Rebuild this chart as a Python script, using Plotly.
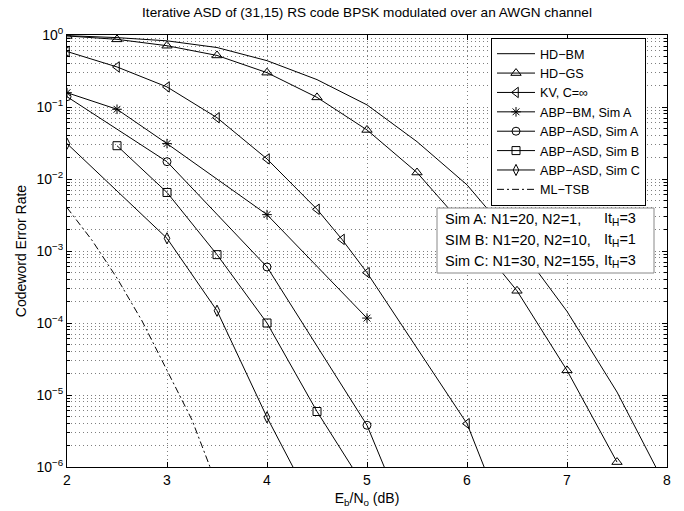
import plotly.graph_objects as go

# ---------------- data ----------------
hd_bm_x = [2, 2.5, 3, 3.5, 4, 4.5, 5, 5.5, 6, 6.5, 7, 7.5, 8]
hd_bm_y = [0.98, 0.92, 0.83, 0.67, 0.44, 0.24, 0.107, 0.033, 8.3e-3, 1.26e-3, 1.45e-4, 1.1e-5, 5e-7]

hd_gs_x = [2, 2.5, 3, 3.5, 4, 4.5, 5, 5.5, 6, 6.5, 7, 7.5]
hd_gs_y = [0.97, 0.87, 0.71, 0.52, 0.30, 0.136, 0.048, 0.0123, 2.0e-3, 2.8e-4, 2.2e-5, 1.17e-6]

kv_x = [2, 2.5, 3, 3.5, 4, 4.5, 4.75, 5, 6, 6.5]
kv_y = [0.59, 0.36, 0.19, 0.071, 0.019, 3.8e-3, 1.45e-3, 5.0e-4, 4.0e-6, 7e-8]

abp_bm_a_x = [2, 2.5, 3, 4, 5]
abp_bm_a_y = [0.158, 0.093, 0.031, 3.2e-3, 1.17e-4]

abp_asd_a_x = [2, 3, 4, 5, 5.5]
abp_asd_a_y = [0.139, 0.0174, 6.0e-4, 3.8e-6, 8e-8]

abp_asd_b_x = [2.5, 3, 3.5, 4, 4.5, 5]
abp_asd_b_y = [0.029, 6.5e-3, 8.9e-4, 1.0e-4, 5.9e-6, 4.7e-7]

abp_asd_c_x = [2, 3, 3.5, 4, 4.5]
abp_asd_c_y = [0.031, 1.5e-3, 1.48e-4, 4.9e-6, 2.3e-7]

ml_tsb_x = [2, 2.25, 2.5, 2.75, 3, 3.25, 3.5]
ml_tsb_y = [4.0e-3, 1.41e-3, 4.2e-4, 1.07e-4, 2.2e-5, 4.5e-6, 5.6e-7]

x_ticks = [2, 3, 4, 5, 6, 7, 8]
y_tick_vals = [1e-6, 1e-5, 1e-4, 1e-3, 1e-2, 1e-1, 1e0]
y_tick_text = ["10<sup>\u22126</sup>", "10<sup>\u22125</sup>", "10<sup>\u22124</sup>",
               "10<sup>\u22123</sup>", "10<sup>\u22122</sup>", "10<sup>\u22121</sup>",
               "10<sup>0</sup>"]

names = ["HD\u2212BM", "HD\u2212GS", "KV, C=\u221e", "ABP\u2212BM, Sim A",
         "ABP\u2212ASD, Sim A", "ABP\u2212ASD, Sim B", "ABP\u2212ASD, Sim C", "ML\u2212TSB"]

sim_left = ["Sim A: N1=20, N2=1,", "SIM B: N1=20, N2=10,", "Sim C: N1=30, N2=155,"]
sim_right = ["It<sub>H</sub>=3", "It<sub>H</sub>=1", "It<sub>H</sub>=3"]

title_text = "Iterative ASD of (31,15) RS code BPSK modulated over an AWGN channel"
x_title = "E<sub>b</sub>/N<sub>o</sub> (dB)"
y_title = "Codeword Error Rate"

# ---------------- figure ----------------
FONT = "Liberation Sans, Arial, Helvetica, sans-serif"
series = [
    (hd_bm_x, hd_bm_y, None, "solid"),
    (hd_gs_x, hd_gs_y, "triangle-up-open", "solid"),
    (kv_x, kv_y, "triangle-left-open", "solid"),
    (abp_bm_a_x, abp_bm_a_y, "asterisk-open", "solid"),
    (abp_asd_a_x, abp_asd_a_y, "circle-open", "solid"),
    (abp_asd_b_x, abp_asd_b_y, "square-open", "solid"),
    (abp_asd_c_x, abp_asd_c_y, "diamond-tall-open", "solid"),
    (ml_tsb_x, ml_tsb_y, None, "7px,3px,2px,3px"),
]

fig = go.Figure()
for (xs, ys, sym, dash), nm in zip(series, names):
    if sym is None:
        mode = "lines"
        marker = None
    else:
        mode = "lines+markers"
        marker = dict(symbol=sym, size=9 if "triangle" in sym else 8, color="black",
                      line=dict(width=1, color="black"))
    fig.add_trace(go.Scatter(x=xs, y=ys, name=nm, mode=mode, marker=marker,
                             line=dict(color="black", width=1, dash=dash)))

minor_vals = [k * 10 ** e for e in range(-6, 0) for k in range(2, 10)]
grid_col = "rgba(0,0,0,0.5)"
grid_dash = "1px,3px"

fig.update_xaxes(range=[2, 8], tickvals=x_ticks, showline=True, linecolor="black",
                 linewidth=1, mirror="allticks", ticks="inside", ticklen=5,
                 tickcolor="black", showgrid=True, gridcolor=grid_col, griddash=grid_dash,
                 gridwidth=1, zeroline=False, automargin=False,
                 tickfont=dict(family=FONT, size=14, color="black"),
                 title=dict(text=x_title, font=dict(family=FONT, size=14, color="black"),
                            standoff=6))
fig.update_yaxes(type="log", range=[-6, 0], tickvals=y_tick_vals, ticktext=y_tick_text,
                 showline=True, linecolor="black", linewidth=1, mirror="allticks",
                 ticks="inside", ticklen=5, tickcolor="black", showgrid=True,
                 gridcolor=grid_col, griddash=grid_dash, gridwidth=1, zeroline=False,
                 automargin=False,
                 minor=dict(tickvals=minor_vals, ticks="inside", ticklen=3,
                            tickcolor="black", showgrid=True, gridcolor=grid_col,
                            griddash=grid_dash, gridwidth=1),
                 tickfont=dict(family=FONT, size=14, color="black"),
                 title=dict(text=y_title, font=dict(family=FONT, size=14, color="black"),
                            standoff=6))

W, H = 684, 511
L, R, T, B = 67, 17, 35, 44
pw, ph = W - L - R, H - T - B


def px(xpix):
    return (xpix - L) / pw


def py(ypix):
    return (H - B - ypix) / ph


fig.update_layout(
    width=W, height=H, margin=dict(l=L, r=R, t=T, b=B, autoexpand=False),
    paper_bgcolor="white", plot_bgcolor="white",
    font=dict(family=FONT, color="black"),
    title=dict(text=title_text, x=0.5, xref="paper", xanchor="center",
               y=1 - 12 / H, yanchor="middle", yref="container", automargin=False,
               font=dict(family=FONT, size=13.6, color="black")),
    legend=dict(x=px(491), y=py(38), xanchor="left", yanchor="top",
                bgcolor="white", bordercolor="black", borderwidth=1,
                font=dict(family=FONT, size=12.6, color="black"),
                itemwidth=38, tracegroupgap=0),
    showlegend=True,
)

# annotation box
fig.add_shape(type="rect", xref="paper", yref="paper",
              x0=px(437), x1=px(654), y0=py(273), y1=py(208),
              line=dict(color="#888888", width=1), fillcolor="white", layer="above")
for i, (lt, rt) in enumerate(zip(sim_left, sim_right)):
    yy = py(219 + 21 * i)
    fig.add_annotation(xref="paper", yref="paper", x=px(443), y=yy, xanchor="left",
                       yanchor="middle", text=lt, showarrow=False,
                       font=dict(family=FONT, size=14.5, color="black"))
    fig.add_annotation(xref="paper", yref="paper", x=px(602), y=yy, xanchor="left",
                       yanchor="middle", text=rt, showarrow=False,
                       font=dict(family=FONT, size=14.5, color="black"))

fig.write_html("out.html", config={"displayModeBar": False},
               post_script="document.body.style.margin='0px';")
